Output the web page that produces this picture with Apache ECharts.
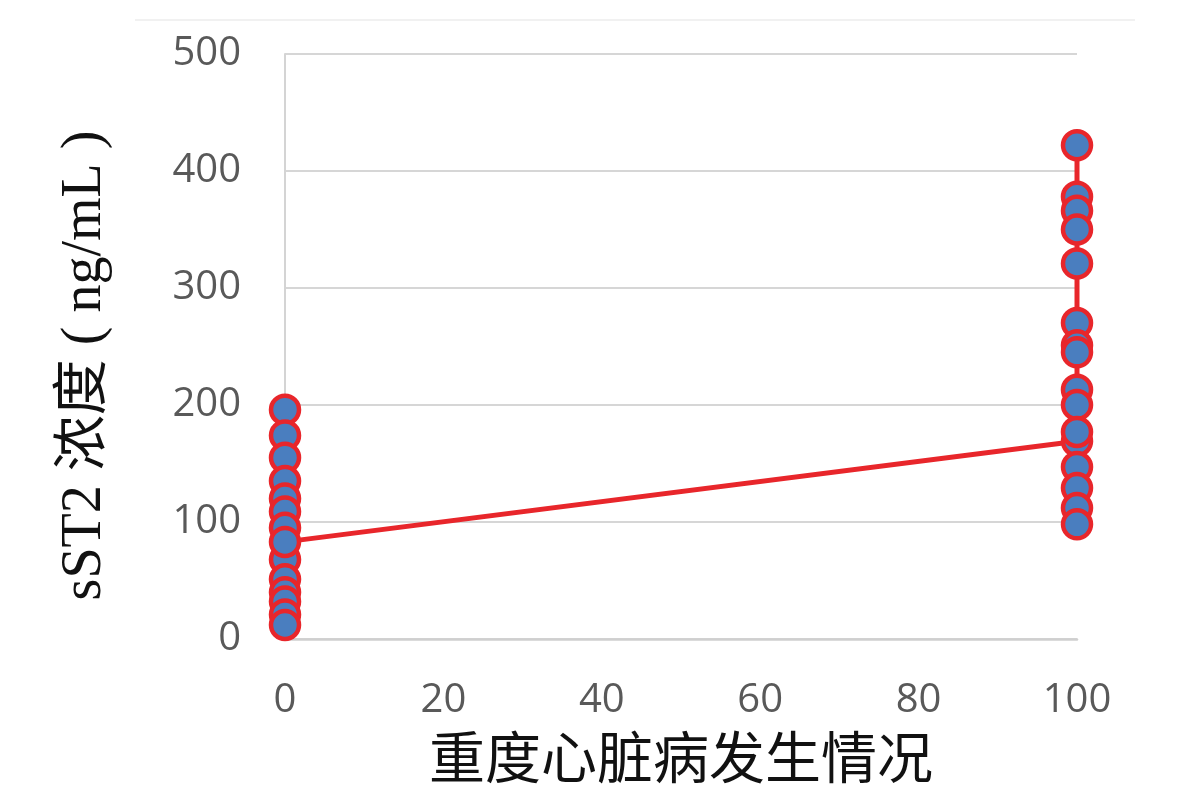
<!DOCTYPE html>
<html>
<head>
<meta charset="utf-8">
<script src="https://cdn.jsdelivr.net/npm/echarts@6/dist/echarts.min.js"></script>
<style>html,body{margin:0;padding:0;background:#fff;}#chart{width:1181px;height:808px;}</style>
</head>
<body>
<div id="chart"></div>
<script>
// Data
const xTicks = [0, 20, 40, 60, 80, 100];
const yTicks = [0, 100, 200, 300, 400, 500];
const groupX = [0, 100];
// sST2 values in drawing order (line joins them in this order)
const noSevereValues = [196, 174, 155, 135, 120, 109, 95, 68, 51, 40, 32, 21, 12, 83];
const severeValues = [169, 422, 378, 366, 350, 321, 270, 251, 245, 213, 200, 177, 147, 129, 112, 98];
const xTitle = '重度心脏病发生情况';
const yTitle = 'sST2 浓度 ( ng/mL )';

const seriesData = [];
noSevereValues.forEach(v => seriesData.push([groupX[0], v]));
severeValues.forEach(v => seriesData.push([groupX[1], v]));

const chart = echarts.init(document.getElementById('chart'));
const labelFont = { color: '#595959', fontSize: 40, fontFamily: 'Open Sans' };
chart.setOption({
  animation: false,
  backgroundColor: '#ffffff',
  graphic: [{
    type: 'line',
    shape: { x1: 135, y1: 20, x2: 1135, y2: 20 },
    style: { stroke: '#ececec', lineWidth: 1.5 }
  }],
  grid: { left: 285, right: 104, top: 54, bottom: 169, containLabel: false },
  xAxis: {
    type: 'value',
    min: xTicks[0], max: xTicks[xTicks.length - 1], interval: 20,
    name: xTitle,
    nameLocation: 'middle',
    nameGap: 90,
    nameTextStyle: { color: '#111', fontSize: 56, fontFamily: 'Noto Sans CJK SC' },
    axisLine: { show: true, lineStyle: { color: '#cfcfcf', width: 2.5 } },
    axisTick: { show: false },
    splitLine: { show: false },
    axisLabel: Object.assign({ margin: 42 }, labelFont)
  },
  yAxis: {
    type: 'value',
    min: yTicks[0], max: yTicks[yTicks.length - 1], interval: 100,
    name: yTitle,
    nameLocation: 'middle',
    nameGap: 172,
    nameRotate: 90,
    nameTextStyle: { color: '#111', fontSize: 56, fontFamily: 'Liberation Serif, Noto Sans CJK SC', padding: [0, 38, 0, 0] },
    axisLine: { show: true, lineStyle: { color: '#d4d4d4', width: 2 } },
    axisTick: { show: false },
    splitLine: { show: true, lineStyle: { color: '#d6d6d6', width: 2 } },
    axisLabel: Object.assign({ margin: 44 }, labelFont)
  },
  series: [{
    type: 'line',
    data: seriesData,
    symbol: 'circle',
    symbolSize: 28,
    showAllSymbol: true,
    lineStyle: { color: '#e8262b', width: 5 },
    itemStyle: { color: '#4a7ebf', borderColor: '#e8262b', borderWidth: 4.5 },
    z: 3
  }]
});
</script>
</body>
</html>
